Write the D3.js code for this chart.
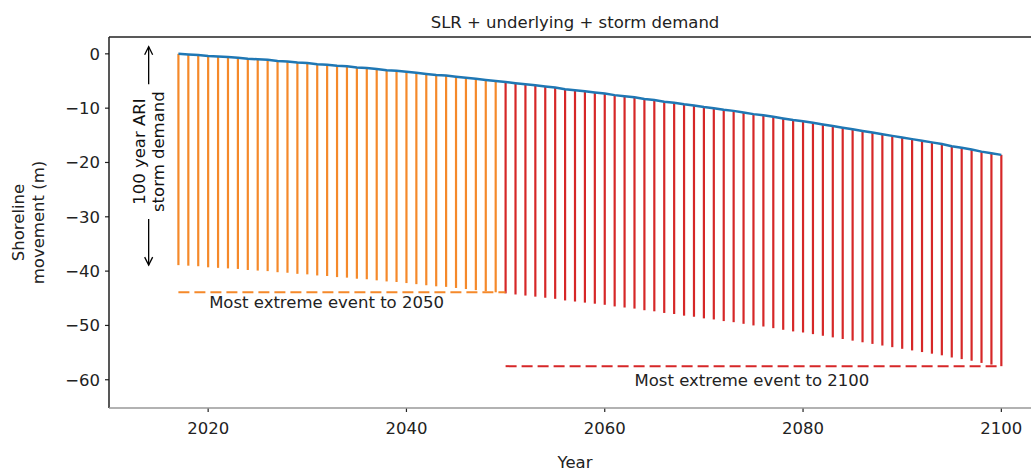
<!DOCTYPE html>
<html>
<head>
<meta charset="utf-8">
<script src="https://cdn.jsdelivr.net/npm/d3@7"></script>
<style>
  body { margin: 0; background: #fff; }
  svg { display: block; font-family: "DejaVu Sans", sans-serif; }
</style>
</head>
<body>
<div id="chart"></div>
<script>
// Années de 2017 à 2100
var years = d3.range(2017, 2101);

// Position du trait de côte (SLR + underlying)
var shoreline = [
    0.0, -0.1, -0.2,
    -0.4, -0.5, -0.6, -0.7, -0.9, -1.0, -1.1, -1.3, -1.4, -1.6,
    -1.7, -1.9, -2.0, -2.2, -2.3, -2.5, -2.6, -2.8, -3.0, -3.1,
    -3.3, -3.5, -3.7, -3.9, -4.0, -4.2, -4.4, -4.6, -4.8, -5.0,
    -5.2, -5.4, -5.6, -5.8, -6.0, -6.2, -6.5, -6.7, -6.9, -7.1,
    -7.3, -7.6, -7.8, -8.0, -8.3, -8.5, -8.8, -9.0, -9.3, -9.5,
    -9.8, -10.0, -10.3, -10.5, -10.8, -11.1, -11.3, -11.6, -11.9, -12.2,
    -12.4, -12.7, -13.0, -13.3, -13.6, -13.9, -14.2, -14.5, -14.8, -15.1,
    -15.4, -15.7, -16.0, -16.3, -16.6, -17.0, -17.3, -17.6, -18.0, -18.3,
    -18.6
];

// Position après la tempête 100 ans ARI
var stormLevel = [
    -38.9, -39.0, -39.1,
    -39.3, -39.4, -39.5, -39.6, -39.8, -39.9, -40.0, -40.2, -40.3, -40.5,
    -40.6, -40.8, -40.9, -41.1, -41.2, -41.4, -41.5, -41.7, -41.9, -42.0,
    -42.2, -42.4, -42.6, -42.8, -42.9, -43.1, -43.3, -43.5, -43.7, -43.9,
    -44.1, -44.3, -44.5, -44.7, -44.9, -45.1, -45.4, -45.6, -45.8, -46.0,
    -46.2, -46.5, -46.7, -46.9, -47.2, -47.4, -47.7, -47.9, -48.2, -48.4,
    -48.7, -48.9, -49.2, -49.4, -49.7, -50.0, -50.2, -50.5, -50.8, -51.1,
    -51.3, -51.6, -51.9, -52.2, -52.5, -52.8, -53.1, -53.4, -53.7, -54.0,
    -54.3, -54.6, -54.9, -55.2, -55.5, -55.9, -56.2, -56.5, -56.9, -57.2,
    -57.5
];

var splitYear = 2050;
var extreme2050 = -43.9;
var extreme2100 = -57.5;

var xTicks = [2020, 2040, 2060, 2080, 2100];
var yTicks = [0, -10, -20, -30, -40, -50, -60];

// Flèche "100 year ARI storm demand"
var arrowYear = 2014;
var arrowTop = 1.3;
var arrowBottom = -38.9;
var arrowTextCenter = -18.0;

var W = 1031, H = 471;
var margin = { top: 37, left: 109 },
    width = 932,
    height = 371;

var font = 16.5;
var orange = "#f5892a", red = "#d62728", blue = "#1f77b4";

var svg = d3.select("#chart").append("svg")
    .attr("width", W)
    .attr("height", H);

var x = d3.scaleLinear().domain([2010, 2104]).range([margin.left, margin.left + width]);
var y = d3.scaleLinear().domain([-65.2, 3.1]).range([margin.top + height, margin.top]);

// Barres verticales (demande de tempête)
svg.append("g").selectAll("line")
    .data(years)
    .enter().append("line")
    .attr("x1", function(d) { return x(d); })
    .attr("x2", function(d) { return x(d); })
    .attr("y1", function(d, i) { return y(shoreline[i]); })
    .attr("y2", function(d, i) { return y(stormLevel[i]); })
    .attr("stroke", function(d) { return d < splitYear ? orange : red; })
    .attr("stroke-width", 2.2);

// Courbe du trait de côte
var line = d3.line()
    .x(function(d) { return x(d); })
    .y(function(d, i) { return y(shoreline[i]); });

svg.append("path")
    .datum(years)
    .attr("d", line)
    .attr("fill", "none")
    .attr("stroke", blue)
    .attr("stroke-width", 2.5);

// Lignes pointillées des événements extrêmes
svg.append("line")
    .attr("x1", x(years[0])).attr("x2", x(splitYear))
    .attr("y1", y(extreme2050)).attr("y2", y(extreme2050))
    .attr("stroke", orange).attr("stroke-width", 2)
    .attr("stroke-dasharray", "11,5");

svg.append("line")
    .attr("x1", x(splitYear)).attr("x2", x(years[years.length - 1]))
    .attr("y1", y(extreme2100)).attr("y2", y(extreme2100))
    .attr("stroke", red).attr("stroke-width", 2)
    .attr("stroke-dasharray", "11,5");

svg.append("text")
    .attr("x", x(2020.1)).attr("y", y(-46.8))
    .attr("font-size", font).attr("fill", "#222")
    .text("Most extreme event to 2050");

svg.append("text")
    .attr("x", x(2063)).attr("y", y(-61.1))
    .attr("font-size", font).attr("fill", "#222")
    .text("Most extreme event to 2100");

// Annotation avec flèches
var ax = x(arrowYear), ay = y(arrowTextCenter);
var ann = svg.append("text")
    .attr("transform", "translate(" + ax + "," + ay + ") rotate(-90)")
    .attr("text-anchor", "middle")
    .attr("font-size", font)
    .attr("fill", "#111");
ann.append("tspan").attr("x", 0).attr("dy", "-0.25em").text("100 year ARI");
ann.append("tspan").attr("x", 0).attr("dy", "1.2em").text("storm demand");

var bb = ann.node().getBBox();
var halfLen = bb.width / 2 + 7;

function arrow(yFrom, yTo) {
    var dir = yTo > yFrom ? 1 : -1;
    svg.append("line")
        .attr("x1", ax).attr("x2", ax)
        .attr("y1", yFrom).attr("y2", yTo)
        .attr("stroke", "#000").attr("stroke-width", 1.3);
    svg.append("path")
        .attr("d", "M" + (ax - 4) + "," + (yTo - dir * 8) + "L" + ax + "," + yTo + "L" + (ax + 4) + "," + (yTo - dir * 8))
        .attr("fill", "none").attr("stroke", "#000").attr("stroke-width", 1.3);
}
arrow(ay - halfLen, y(arrowTop));
arrow(ay + halfLen, y(arrowBottom));

// Axes
var gx = svg.append("g").attr("transform", "translate(0," + (margin.top + height) + ")");
gx.selectAll("line.tick")
    .data(xTicks).enter().append("line")
    .attr("x1", function(d) { return x(d); }).attr("x2", function(d) { return x(d); })
    .attr("y1", 0).attr("y2", 4)
    .attr("stroke", "#222").attr("stroke-width", 1.2);
gx.selectAll("text")
    .data(xTicks).enter().append("text")
    .attr("x", function(d) { return x(d); })
    .attr("y", 26)
    .attr("text-anchor", "middle")
    .attr("font-size", font).attr("fill", "#222")
    .text(function(d) { return d; });

var gy = svg.append("g").attr("transform", "translate(" + margin.left + ",0)");
gy.selectAll("line")
    .data(yTicks).enter().append("line")
    .attr("x1", -4).attr("x2", 0)
    .attr("y1", function(d) { return y(d); }).attr("y2", function(d) { return y(d); })
    .attr("stroke", "#222").attr("stroke-width", 1.2);
gy.selectAll("text")
    .data(yTicks).enter().append("text")
    .attr("x", -9)
    .attr("y", function(d) { return y(d); })
    .attr("dy", "0.36em")
    .attr("text-anchor", "end")
    .attr("font-size", font).attr("fill", "#222")
    .text(function(d) { return d < 0 ? "\u2212" + Math.abs(d) : d; });

// Cadre
svg.append("line")
    .attr("x1", margin.left).attr("x2", margin.left)
    .attr("y1", margin.top).attr("y2", margin.top + height)
    .attr("stroke", "#111").attr("stroke-width", 1.4);
svg.append("line")
    .attr("x1", margin.left).attr("x2", margin.left + width)
    .attr("y1", margin.top).attr("y2", margin.top)
    .attr("stroke", "#222").attr("stroke-width", 1.4);
svg.append("line")
    .attr("x1", margin.left).attr("x2", margin.left + width)
    .attr("y1", margin.top + height).attr("y2", margin.top + height)
    .attr("stroke", "#999").attr("stroke-width", 1.5);
svg.append("line")
    .attr("x1", margin.left + width).attr("x2", margin.left + width)
    .attr("y1", margin.top).attr("y2", margin.top + height)
    .attr("stroke", "#222").attr("stroke-width", 1.4);

// Titres
svg.append("text")
    .attr("x", margin.left + width / 2).attr("y", 28)
    .attr("text-anchor", "middle")
    .attr("font-size", font).attr("fill", "#222")
    .text("SLR + underlying + storm demand");

svg.append("text")
    .attr("x", margin.left + width / 2).attr("y", 468)
    .attr("text-anchor", "middle")
    .attr("font-size", font).attr("fill", "#222")
    .text("Year");

var yl = svg.append("text")
    .attr("transform", "translate(28," + (margin.top + height / 2) + ") rotate(-90)")
    .attr("text-anchor", "middle")
    .attr("font-size", font).attr("fill", "#222");
yl.append("tspan").attr("x", 0).attr("dy", "-0.25em").text("Shoreline");
yl.append("tspan").attr("x", 0).attr("dy", "1.2em").text("movement (m)");
</script>
</body>
</html>
